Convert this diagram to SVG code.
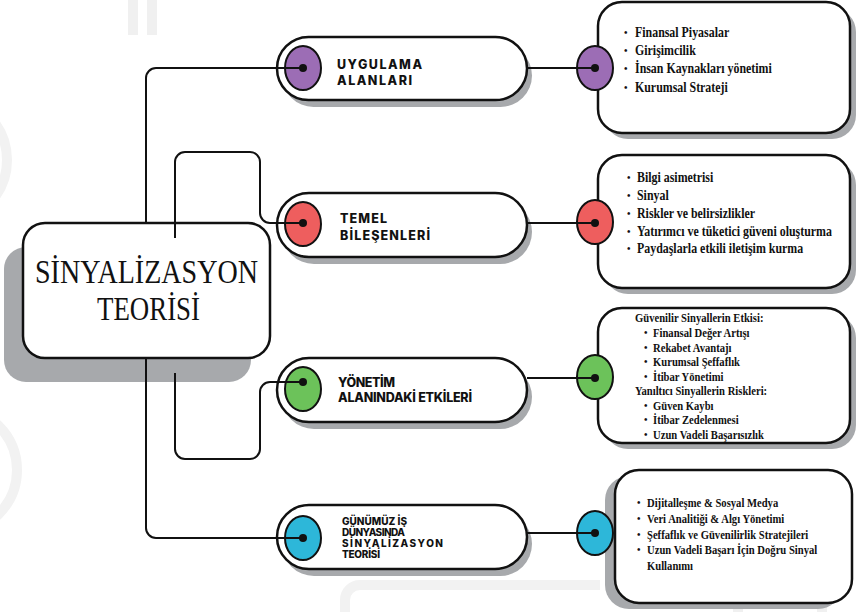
<svg xmlns="http://www.w3.org/2000/svg" width="856" height="612" viewBox="0 0 856 612">
<style>
.bg{fill:#fff}
.deco{fill:none;stroke:#f2f2f2;stroke-width:10}
.decof{fill:#f0f0f0}
.shadow{fill:#a7a9ac}
.box{fill:#fff;stroke:#111;stroke-width:2.5}
.pill{fill:#fff;stroke:#111;stroke-width:2.5}
.dot{fill:#111}
.circ{stroke:#111;stroke-width:2}
.purple{fill:#9c6db5}
.red{fill:#ee5e5e}
.green{fill:#6cc25a}
.cyan{fill:#2db7d9}
.title{font-family:"Liberation Serif","Times New Roman",serif;font-size:33px;fill:#111}
.lbl{font-family:Inter,"Open Sans","DejaVu Sans",sans-serif;font-weight:800;font-size:12.5px;fill:#111}
.lbls{font-family:Inter,"Open Sans","DejaVu Sans",sans-serif;font-weight:800;font-size:10px;fill:#111}
.it{font-family:"Liberation Serif","Times New Roman",serif;font-weight:700;font-size:14px;fill:#111}
.its{font-family:"Liberation Serif","Times New Roman",serif;font-weight:700;font-size:12.5px;fill:#111}
.bul{font-family:"Liberation Serif","Times New Roman",serif;font-weight:700;font-size:10px;fill:#111}
.conn{fill:none;stroke:#111;stroke-width:2}
</style>
<rect class="bg" x="0" y="0" width="856" height="612"/>
<g id="background">
<rect class="decof" x="128" y="0" width="10" height="35"/>
<rect class="decof" x="147" y="0" width="10" height="35"/>
<circle class="deco" cx="-55" cy="160" r="62"/>
<circle class="deco" cx="-45" cy="470" r="62"/>
<path class="deco" d="M345,612 V600 A15,15 0 0 1 360,585 H600"/>
<rect class="decof" x="733" y="593" width="10" height="19"/>
<rect class="decof" x="817" y="593" width="10" height="19"/>
<path class="deco" d="M540,0 A30,30 0 0 1 600,0"/>
</g>

<g id="center">
<rect class="shadow" x="4" y="247" width="247" height="135" rx="22"/>
<rect class="box" x="23" y="223" width="247" height="135" rx="22"/>
<text class="title" x="35" y="283" textLength="223" lengthAdjust="spacingAndGlyphs">SİNYALİZASYON</text>
<text class="title" x="97" y="320" textLength="103" lengthAdjust="spacingAndGlyphs">TEORİSİ</text>
</g>

<g id="uygulama">
<rect class="shadow" x="282" y="44" width="250" height="63" rx="31.5"/>
<rect class="pill" x="277" y="37" width="250" height="63" rx="31.5"/>
<ellipse class="circ purple" cx="303" cy="68" rx="18" ry="22"/>
<circle class="dot" cx="303" cy="68" r="4"/>
<text class="lbl" x="337" y="69" textLength="85" lengthAdjust="spacing">UYGULAMA</text>
<text class="lbl" x="337" y="85" textLength="75" lengthAdjust="spacing">ALANLARI</text>
</g>

<g id="temel">
<rect class="shadow" x="282" y="200" width="250" height="64" rx="32"/>
<rect class="pill" x="277" y="193" width="250" height="64" rx="32"/>
<ellipse class="circ red" cx="303" cy="224" rx="18" ry="22"/>
<circle class="dot" cx="303" cy="223" r="4"/>
<text class="lbl" x="340" y="223" textLength="47" lengthAdjust="spacing">TEMEL</text>
<text class="lbl" x="340" y="240" textLength="90" lengthAdjust="spacing">BİLEŞENLERİ</text>
</g>

<g id="yonetim">
<rect class="shadow" x="282" y="365" width="250" height="64" rx="32"/>
<rect class="pill" x="277" y="358" width="250" height="64" rx="32"/>
<ellipse class="circ green" cx="303" cy="389" rx="18" ry="22"/>
<circle class="dot" cx="303" cy="382" r="4"/>
<text class="lbl" x="338" y="387" textLength="57" lengthAdjust="spacing">YÖNETİM</text>
<text class="lbl" x="338" y="402" textLength="134" lengthAdjust="spacing">ALANINDAKİ ETKİLERİ</text>
</g>

<g id="gunumuz">
<rect class="shadow" x="282" y="512" width="250" height="64" rx="32"/>
<rect class="pill" x="277" y="505" width="250" height="64" rx="32"/>
<ellipse class="circ cyan" cx="303" cy="538" rx="18" ry="22"/>
<circle class="dot" cx="303" cy="538" r="4"/>
<text class="lbls" x="342" y="525" textLength="65" lengthAdjust="spacing">GÜNÜMÜZ İŞ</text>
<text class="lbls" x="342" y="536" textLength="63" lengthAdjust="spacing">DÜNYASINDA</text>
<text class="lbls" x="342" y="547" textLength="101" lengthAdjust="spacing">SİNYALİZASYON</text>
<text class="lbls" x="342" y="558" textLength="38" lengthAdjust="spacing">TEORİSİ</text>
</g>

<g id="box-uygulama">
<rect class="shadow" x="604" y="8" width="252" height="131" rx="24"/>
<rect class="box" x="598" y="2" width="252" height="131" rx="24"/>
<text class="bul" x="624" y="36">•</text>
<text class="bul" x="624" y="54">•</text>
<text class="bul" x="624" y="72">•</text>
<text class="bul" x="624" y="91">•</text>
<g transform="translate(635 0) scale(0.85 1)">
<text class="it" x="0" y="37">Finansal Piyasalar</text>
<text class="it" x="0" y="55">Girişimcilik</text>
<text class="it" x="0" y="73">İnsan Kaynakları yönetimi</text>
<text class="it" x="0" y="92">Kurumsal Strateji</text>
</g>
<ellipse class="circ purple" cx="595" cy="68" rx="18" ry="22"/>
<circle class="dot" cx="595" cy="68" r="4"/>
</g>

<g id="box-temel">
<rect class="shadow" x="604" y="161" width="252" height="133" rx="24"/>
<rect class="box" x="598" y="155" width="252" height="133" rx="24"/>
<text class="bul" x="627" y="181">•</text>
<text class="bul" x="627" y="199">•</text>
<text class="bul" x="627" y="217">•</text>
<text class="bul" x="627" y="235">•</text>
<text class="bul" x="627" y="252">•</text>
<g transform="translate(637 0) scale(0.85 1)">
<text class="it" x="0" y="182">Bilgi asimetrisi</text>
<text class="it" x="0" y="200">Sinyal</text>
<text class="it" x="0" y="218">Riskler ve belirsizlikler</text>
<text class="it" x="0" y="236">Yatırımcı ve tüketici güveni oluşturma</text>
<text class="it" x="0" y="253">Paydaşlarla etkili iletişim kurma</text>
</g>
<ellipse class="circ red" cx="595" cy="222" rx="18" ry="22"/>
<circle class="dot" cx="595" cy="223" r="4"/>
</g>

<g id="box-yonetim">
<rect class="shadow" x="604" y="314" width="252" height="135" rx="24"/>
<rect class="box" x="598" y="308" width="252" height="135" rx="24"/>
<text class="bul" x="644" y="336">•</text>
<text class="bul" x="644" y="351">•</text>
<text class="bul" x="644" y="365">•</text>
<text class="bul" x="644" y="380">•</text>
<text class="bul" x="644" y="409">•</text>
<text class="bul" x="644" y="423">•</text>
<text class="bul" x="644" y="438">•</text>
<g transform="translate(635 0) scale(0.85 1)">
<text class="its" x="0" y="322">Güvenilir Sinyallerin Etkisi:</text>
<text class="its" x="0" y="395">Yanıltıcı Sinyallerin Riskleri:</text>
</g>
<g transform="translate(653 0) scale(0.85 1)">
<text class="its" x="0" y="337">Finansal Değer Artışı</text>
<text class="its" x="0" y="352">Rekabet Avantajı</text>
<text class="its" x="0" y="366">Kurumsal Şeffaflık</text>
<text class="its" x="0" y="381">İtibar Yönetimi</text>
<text class="its" x="0" y="410">Güven Kaybı</text>
<text class="its" x="0" y="424">İtibar Zedelenmesi</text>
<text class="its" x="0" y="439">Uzun Vadeli Başarısızlık</text>
</g>
<ellipse class="circ green" cx="595" cy="377" rx="18" ry="22"/>
<circle class="dot" cx="595" cy="378" r="4"/>
</g>

<g id="box-gunumuz">
<rect class="shadow" x="605" y="476" width="237" height="133" rx="24"/>
<rect class="box" x="615" y="470" width="237" height="133" rx="24"/>
<text class="bul" x="637" y="506">•</text>
<text class="bul" x="637" y="522">•</text>
<text class="bul" x="637" y="538">•</text>
<text class="bul" x="637" y="553">•</text>
<g transform="translate(647 0) scale(0.85 1)">
<text class="its" x="0" y="507">Dijitalleşme &amp; Sosyal Medya</text>
<text class="its" x="0" y="523">Veri Analitiği &amp; Algı Yönetimi</text>
<text class="its" x="0" y="539">Şeffaflık ve Güvenilirlik Stratejileri</text>
<text class="its" x="0" y="554">Uzun Vadeli Başarı İçin Doğru Sinyal</text>
<text class="its" x="0" y="570">Kullanımı</text>
</g>
<ellipse class="circ cyan" cx="595" cy="533" rx="18" ry="22"/>
<circle class="dot" cx="595" cy="533" r="4"/>
</g>

<g id="connectors">
<path class="conn" d="M146,223 V78 A10,10 0 0 1 156,68 H303"/>
<path class="conn" d="M175,238 V162 A10,10 0 0 1 185,152 H250 A10,10 0 0 1 260,162 V213 A10,10 0 0 0 270,223 H303"/>
<path class="conn" d="M175,373 V449 A10,10 0 0 0 185,459 H250 A10,10 0 0 0 260,449 V392 A10,10 0 0 1 270,382 H303"/>
<path class="conn" d="M146,358 V528 A10,10 0 0 0 156,538 H303"/>
<path class="conn" d="M527,68 H595"/>
<path class="conn" d="M527,223 H595"/>
<path class="conn" d="M527,378 H595"/>
<path class="conn" d="M527,533 H595"/>
</g>
</svg>
